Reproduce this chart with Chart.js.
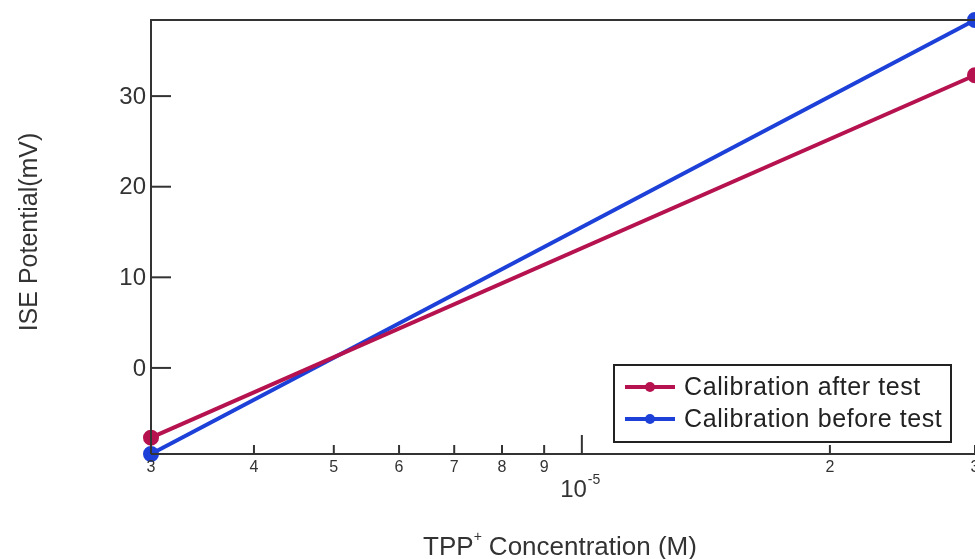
<!DOCTYPE html>
<html>
<head>
<meta charset="utf-8">
<script src="https://cdn.jsdelivr.net/npm/chart.js@4/dist/chart.umd.min.js"></script>
<style>
  html, body { margin: 0; padding: 0; background: #fff; overflow: hidden; }
  #wrap { position: relative; width: 1000px; height: 559px; }
</style>
</head>
<body>
<div id="wrap"><canvas id="calChart"></canvas></div>
<script>
// concentrations (M) and potentials (mV)
var concentration = [3e-6, 3e-5];
var afterTest = [-7.7, 32.3];
var beforeTest = [-9.5, 38.4];
var seriesLabels = ['Calibration after test', 'Calibration before test'];
var seriesColors = ['#b5124f', '#1c40d8'];

var xMinorTicks = [3e-6, 4e-6, 5e-6, 6e-6, 7e-6, 8e-6, 9e-6, 2e-5, 3e-5];
var xMinorLabels = ['3', '4', '5', '6', '7', '8', '9', '2', '3'];
var xMajorTick = 1e-5;
var yTicks = [0, 10, 20, 30];

var FONT = '"Liberation Sans", Arial, sans-serif';

function pts(ys) {
    return concentration.map(function(x, i) { return { x: x, y: ys[i] }; });
}

var axesPlugin = {
    id: 'igorAxes',
    afterDraw: function(chart) {
        var c = chart.ctx, a = chart.chartArea;
        var xs = chart.scales.x, ys = chart.scales.y;
        c.save();
        c.strokeStyle = '#333';
        c.fillStyle = '#333';
        c.lineWidth = 2;
        // frame: left, top, bottom
        c.beginPath();
        c.moveTo(a.left, a.bottom); c.lineTo(a.left, a.top); c.lineTo(a.right + 5, a.top);
        c.moveTo(a.left, a.bottom); c.lineTo(a.right + 5, a.bottom);
        c.stroke();

        // y ticks (inward) and labels
        c.font = '24px ' + FONT;
        c.textAlign = 'right';
        c.textBaseline = 'middle';
        yTicks.forEach(function(v) {
            var py = ys.getPixelForValue(v);
            c.beginPath(); c.moveTo(a.left, py); c.lineTo(a.left + 20, py); c.stroke();
            c.fillText(String(v), a.left - 5, py + 1);
        });

        // x ticks (inward)
        c.font = '16px ' + FONT;
        c.textAlign = 'center';
        c.textBaseline = 'top';
        xMinorTicks.forEach(function(v, i) {
            var px = xs.getPixelForValue(v);
            c.beginPath(); c.moveTo(px, a.bottom); c.lineTo(px, a.bottom - 9); c.stroke();
            c.fillText(xMinorLabels[i], px, a.bottom + 6);
        });
        var pm = xs.getPixelForValue(xMajorTick);
        c.beginPath(); c.moveTo(pm, a.bottom); c.lineTo(pm, a.bottom - 19); c.stroke();

        // 10^-5 label
        c.font = '24px ' + FONT;
        c.textAlign = 'right';
        c.textBaseline = 'alphabetic';
        c.fillText('10', pm + 5, a.bottom + 43);
        c.font = '14px ' + FONT;
        c.textAlign = 'left';
        c.fillText('-5', pm + 6, a.bottom + 30);

        // axis titles
        c.font = '26px ' + FONT;
        c.textAlign = 'left';
        var t1 = 'TPP', t2 = ' Concentration (M)';
        var w1 = c.measureText(t1).width, w2 = c.measureText(t2).width;
        var tx = 560 - (w1 + 8 + w2) / 2;
        c.fillText(t1, tx, 555);
        c.font = '14px ' + FONT;
        c.fillText('+', tx + w1, 541);
        c.font = '26px ' + FONT;
        c.fillText(t2, tx + w1 + 8, 555);

        c.save();
        c.translate(37, 232);
        c.rotate(-Math.PI / 2);
        c.textAlign = 'center';
        c.font = '25px ' + FONT;
        c.fillText('ISE Potential(mV)', 0, 0);
        c.restore();

        // legend
        c.fillStyle = '#fff';
        c.fillRect(614, 365, 337, 77);
        c.lineWidth = 2;
        c.strokeStyle = '#222';
        c.strokeRect(614, 365, 337, 77);
        c.font = '25px ' + FONT;
        c.letterSpacing = '0.6px';
        c.textBaseline = 'middle';
        c.textAlign = 'left';
        chart.data.datasets.forEach(function(ds, i) {
            var ly = 387 + i * 32;
            c.strokeStyle = ds.borderColor;
            c.lineWidth = 4;
            c.beginPath(); c.moveTo(625, ly); c.lineTo(675, ly); c.stroke();
            c.fillStyle = ds.borderColor;
            c.beginPath(); c.arc(650, ly, 5, 0, Math.PI * 2); c.fill();
            c.fillStyle = '#222';
            c.fillText(ds.label, 684, ly + 1);
        });
        c.restore();
    }
};

new Chart(document.getElementById('calChart'), {
    type: 'scatter',
    data: {
        datasets: [{
            label: seriesLabels[0],
            data: pts(afterTest),
            showLine: true,
            borderColor: seriesColors[0],
            backgroundColor: seriesColors[0],
            borderWidth: 4,
            pointRadius: 6
        }, {
            label: seriesLabels[1],
            data: pts(beforeTest),
            showLine: true,
            borderColor: seriesColors[1],
            backgroundColor: seriesColors[1],
            borderWidth: 4,
            pointRadius: 6
        }]
    },
    options: {
        responsive: true,
        maintainAspectRatio: false,
        animation: false,
        clip: false,
        layout: { padding: { left: 151, right: 25, top: 20, bottom: 105 } },
        plugins: { legend: { display: false }, tooltip: { enabled: false } },
        scales: {
            x: { type: 'logarithmic', display: false, min: 3e-6, max: 3e-5 },
            y: { type: 'linear', display: false, min: -9.5, max: 38.4 }
        }
    },
    plugins: [axesPlugin]
});
</script>
</body>
</html>
